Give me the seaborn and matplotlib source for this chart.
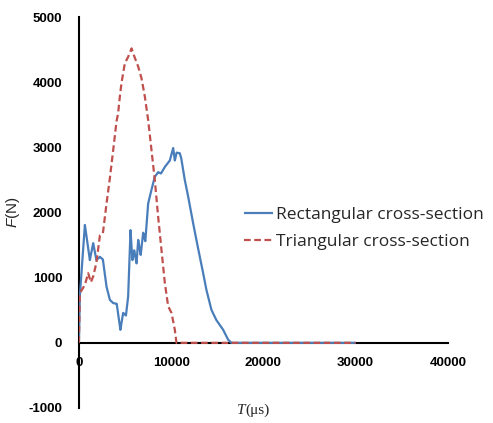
import numpy as np
import pandas as pd
import matplotlib
matplotlib.use("Agg")
import matplotlib.pyplot as plt
import seaborn as sns

# values
rect_t = [0, 100, 650, 1190, 1550, 1900, 2280, 2600, 3000, 3360, 3720, 4100, 4500, 4800,
          5100, 5340, 5600, 5800, 6000, 6250, 6430, 6700, 6970, 7200, 7510, 7870, 8230,
          8600, 8900, 9320, 9860, 10220, 10400, 10600, 10940, 11100, 11480, 11840, 12380,
          12740, 13110, 13470, 13830, 14370, 14900, 15640, 16170, 16540, 30000]
rect_f = [0, 710, 1810, 1270, 1530, 1270, 1320, 1280, 860, 660, 610, 600, 200, 460,
          420, 710, 1730, 1270, 1420, 1220, 1580, 1350, 1690, 1560, 2140, 2350, 2550,
          2620, 2600, 2700, 2800, 2990, 2800, 2920, 2910, 2830, 2500, 2250, 1840,
          1580, 1320, 1070, 810, 506, 350, 200, 50, 0, 0]

tri_t = [0, 100, 650, 1010, 1300, 1550, 1900, 2280, 2600, 3000, 3360, 3720, 4080, 4250,
         4440, 4620, 4980, 5340, 5710, 6000, 6430, 6790, 7150, 7510, 7870, 8230, 8590,
         8950, 9320, 9680, 10040, 10400, 10580, 30000]
tri_f = [0, 760, 890, 1070, 930, 1020, 1230, 1650, 1680, 2140, 2530, 2960, 3400, 3520,
         3780, 3990, 4290, 4390, 4520, 4400, 4240, 4060, 3780, 3420, 2960, 2500, 1940,
         1430, 915, 560, 460, 200, 0, 0]

labels = ["Rectangular cross-section", "Triangular cross-section"]
colors = ["#4a7ebb", "#c0504d"]

df = pd.concat([
    pd.DataFrame({"T": rect_t, "F": rect_f, "section": labels[0]}),
    pd.DataFrame({"T": tri_t, "F": tri_f, "section": labels[1]}),
])

sns.set_theme(style="white")
plt.rcParams["font.family"] = ["Liberation Sans", "DejaVu Sans"]
plt.rcParams["mathtext.fontset"] = "custom"
plt.rcParams["mathtext.it"] = "Liberation Sans:italic"
plt.rcParams["mathtext.rm"] = "Liberation Sans"
plt.rcParams["axes.unicode_minus"] = False

fig = plt.figure(figsize=(4.93, 4.23), dpi=100)
ax = fig.add_axes([0.160, 0.0355, 0.7485, 0.924])

sns.lineplot(data=df, x="T", y="F", hue="section", style="section",
             palette=colors, dashes=[(1, 0), (3, 1.6)], linewidth=1.6,
             sort=False, estimator=None, ax=ax, zorder=3)

ax.set_xlim(0, 40000)
ax.set_ylim(-1000, 5000)
ax.set_xticks([0, 10000, 20000, 30000, 40000])
ax.set_yticks(range(-1000, 5001, 1000))
ax.spines["top"].set_visible(False)
ax.spines["right"].set_visible(False)
ax.spines["bottom"].set_position(("data", 0))
for s in ["left", "bottom"]:
    ax.spines[s].set_color("black")
    ax.spines[s].set_linewidth(1.5)
ax.tick_params(axis="x", direction="in", length=5, width=1.2, pad=10, colors="black")
ax.tick_params(axis="y", direction="out", length=4, width=1.2, pad=8, colors="black")
for lab in ax.get_xticklabels() + ax.get_yticklabels():
    lab.set_fontweight("bold")
    lab.set_fontsize(9.5)
ax.set_xlabel("")
ax.set_ylabel(r"$\it{F}$(N)", fontsize=11)
ax.yaxis.set_label_coords(-0.155, 0.5)

fig.text(0.497, 0.03, "T", fontsize=11, style="italic", family="Liberation Serif",
         ha="right", va="center")
fig.text(0.497, 0.03, "(μs)", fontsize=11, family="Liberation Serif",
         ha="left", va="center")

ax.legend(frameon=False, loc="center left", bbox_to_anchor=(0.495, 0.46),
          bbox_transform=fig.transFigure, handlelength=1.65,
          handletextpad=0.2, labelspacing=0.62, borderpad=0, borderaxespad=0,
          prop={"family": "Open Sans", "size": 12.5})

fig.savefig("out.png", dpi=100)
